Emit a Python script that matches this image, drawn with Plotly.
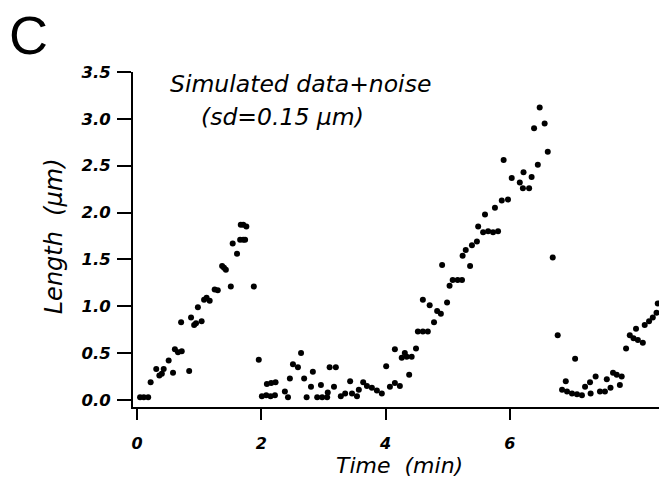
import plotly.graph_objects as go

# Segment-wise data: time (min), length (um)
t_grow1 = [0.05, 0.11, 0.18, 0.22, 0.31, 0.36, 0.40, 0.43, 0.51, 0.58, 0.61, 0.66, 0.72, 0.71,
           0.84, 0.87, 0.92, 0.95, 0.98, 1.04, 1.08, 1.12, 1.17, 1.25, 1.30, 1.37, 1.40, 1.43,
           1.51, 1.54, 1.61, 1.66, 1.71, 1.74, 1.67, 1.71, 1.76, 1.88, 1.96]
l_grow1 = [0.03, 0.03, 0.03, 0.19, 0.33, 0.26, 0.28, 0.33, 0.42, 0.29, 0.54, 0.51, 0.52, 0.83,
           0.31, 0.88, 0.80, 0.82, 0.99, 0.84, 1.07, 1.09, 1.06, 1.18, 1.17, 1.43, 1.41, 1.39,
           1.21, 1.67, 1.56, 1.71, 1.71, 1.71, 1.87, 1.87, 1.85, 1.21, 0.43]

t_pause1 = [2.01, 2.08, 2.15, 2.22, 2.09, 2.16, 2.23, 2.38, 2.43, 2.46, 2.51, 2.59, 2.64, 2.69,
            2.73, 2.80, 2.83, 2.90, 2.98, 3.06, 2.96, 3.07, 3.10, 3.20, 3.17, 3.28, 3.35, 3.43,
            3.46, 3.54, 3.57, 3.64, 3.70, 3.78, 3.86, 3.94, 4.01, 4.07, 4.15, 4.15, 4.23, 4.26]
l_pause1 = [0.04, 0.05, 0.04, 0.05, 0.17, 0.18, 0.19, 0.09, 0.03, 0.23, 0.38, 0.35, 0.50, 0.23,
            0.03, 0.14, 0.30, 0.03, 0.03, 0.03, 0.16, 0.08, 0.35, 0.35, 0.14, 0.04, 0.07, 0.20,
            0.07, 0.04, 0.11, 0.19, 0.15, 0.13, 0.10, 0.07, 0.36, 0.14, 0.18, 0.54, 0.15, 0.45]

t_grow2 = [4.31, 4.34, 4.42, 4.38, 4.49, 4.52, 4.60, 4.68, 4.60, 4.71, 4.78, 4.83, 4.89, 4.91,
           4.99, 5.03, 5.08, 5.16, 5.23, 5.24, 5.29, 5.36, 5.39, 5.47, 5.49, 5.57, 5.65, 5.73,
           5.81, 5.60, 5.76, 5.87, 5.97, 5.90, 6.03, 6.16, 6.21, 6.31, 6.22, 6.35, 6.39, 6.45,
           6.48, 6.56, 6.61, 6.69, 6.77]
l_grow2 = [0.50, 0.46, 0.46, 0.27, 0.55, 0.73, 0.73, 0.73, 1.07, 1.01, 0.83, 0.95, 0.92, 1.44,
           1.04, 1.22, 1.28, 1.28, 1.28, 1.54, 1.60, 1.43, 1.65, 1.69, 1.85, 1.79, 1.80, 1.79,
           1.80, 1.98, 2.05, 2.13, 2.14, 2.56, 2.37, 2.32, 2.26, 2.26, 2.43, 2.38, 2.90, 2.51,
           3.12, 2.95, 2.65, 1.52, 0.69]

t_pause2 = [6.90, 6.84, 6.92, 7.00, 7.08, 7.16, 7.05, 7.21, 7.29, 7.38, 7.30, 7.45, 7.53, 7.56,
            7.62, 7.66, 7.72, 7.80, 7.77, 7.87, 7.93, 7.99, 8.03, 8.06, 8.14, 8.17, 8.24, 8.30,
            8.36, 8.38]
l_pause2 = [0.20, 0.11, 0.09, 0.07, 0.06, 0.05, 0.44, 0.14, 0.19, 0.25, 0.07, 0.09, 0.09, 0.22,
            0.13, 0.29, 0.27, 0.25, 0.16, 0.55, 0.69, 0.66, 0.76, 0.64, 0.61, 0.80, 0.84, 0.88,
            0.93, 1.03]

x_ticks = [0, 2, 4, 6]
x_tick_labels = ["0", "2", "4", "6"]
y_ticks = [0.0, 0.5, 1.0, 1.5, 2.0, 2.5, 3.0, 3.5]
y_tick_labels = ["0.0", "0.5", "1.0", "1.5", "2.0", "2.5", "3.0", "3.5"]

times = t_grow1 + t_pause1 + t_grow2 + t_pause2
lengths = l_grow1 + l_pause1 + l_grow2 + l_pause2

FONT = "DejaVu Sans"

fig = go.Figure()
fig.add_trace(go.Scatter(
    x=times, y=lengths, mode="markers",
    marker=dict(color="black", size=6, line=dict(width=0)),
    showlegend=False, cliponaxis=True,
))

fig.update_layout(
    width=659, height=487,
    margin=dict(l=133, r=0, t=72, b=80),
    paper_bgcolor="white", plot_bgcolor="white",
    font=dict(family=FONT, color="black"),
    xaxis=dict(
        range=[-0.064, 8.40], tickvals=x_ticks, ticktext=x_tick_labels,
        showgrid=False, zeroline=False, showline=True, linecolor="black", linewidth=2,
        ticks="outside", ticklen=11, tickwidth=2, tickcolor="black",
        tickfont=dict(family=FONT, size=16, style="italic", weight="bold"),
        ticklabelstandoff=10,
    ),
    yaxis=dict(
        range=[-0.075, 3.5], tickvals=y_ticks, ticktext=y_tick_labels,
        showgrid=False, zeroline=False, showline=True, linecolor="black", linewidth=2,
        ticks="outside", ticklen=14, tickwidth=2, tickcolor="black",
        tickfont=dict(family=FONT, size=16.5, style="italic", weight="bold"),
        ticklabelstandoff=3,
    ),
)

ann_font = dict(family=FONT, size=23.5, style="italic", color="black")
fig.add_annotation(text="Simulated data+noise", x=0.3175, y=0.964, xref="paper", yref="paper",
                   showarrow=False, xanchor="center", yanchor="middle", font=ann_font)
fig.add_annotation(text="(sd=0.15 \u00b5m)", x=0.285, y=0.866, xref="paper", yref="paper",
                   showarrow=False, xanchor="center", yanchor="middle", font=ann_font)
fig.add_annotation(text="C", x=-0.1996, y=1.110, xref="paper", yref="paper",
                   showarrow=False, xanchor="center", yanchor="middle",
                   font=dict(family="Liberation Sans", size=54, color="black"))
fig.add_annotation(text="Length\u00a0\u00a0(\u00b5m)", x=-0.150, y=0.51, xref="paper", yref="paper",
                   showarrow=False, xanchor="center", yanchor="middle", textangle=-90,
                   font=dict(family=FONT, size=24, style="italic", color="black"))
fig.add_annotation(text="Time\u00a0\u00a0(min)", x=0.5076, y=-0.176, xref="paper", yref="paper",
                   showarrow=False, xanchor="center", yanchor="middle",
                   font=dict(family=FONT, size=22, style="italic", color="black"))

fig.write_html("out.html")
